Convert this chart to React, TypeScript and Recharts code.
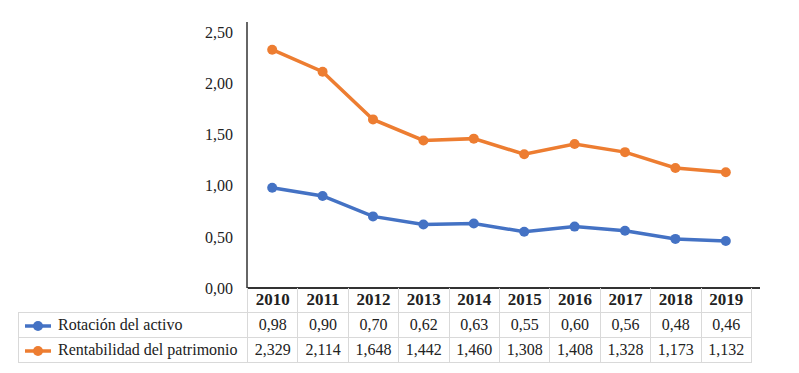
import { LineChart, Line, XAxis, YAxis } from 'recharts';

const years = ['2010', '2011', '2012', '2013', '2014', '2015', '2016', '2017', '2018', '2019'];
const rotacion = [0.98, 0.9, 0.7, 0.62, 0.63, 0.55, 0.6, 0.56, 0.48, 0.46];
const rentabilidad = [2.329, 2.114, 1.648, 1.442, 1.46, 1.308, 1.408, 1.328, 1.173, 1.132];
const yTicks = [0, 0.5, 1, 1.5, 2, 2.5];

const BLUE = '#4472C4';
const ORANGE = '#ED7D31';
const FONT = '"Liberation Serif", "Times New Roman", serif';

const data = years.map((y, i) => ({ year: y, rot: rotacion[i], rent: rentabilidad[i] }));

const comma = (v: number, d: number) => v.toFixed(d).replace('.', ',');

const cellBorder = '1px solid #d9d9d9';

const LegendKey = ({ color }: { color: string }) => (
  <svg width={30} height={12} style={{ verticalAlign: 'middle', marginRight: 5 }}>
    <line x1={2} y1={6} x2={28} y2={6} stroke={color} strokeWidth={3.5} />
    <circle cx={15} cy={6} r={5} fill={color} />
  </svg>
);

export default function App() {
  const colW = 50.4;
  const rows = [
    { label: 'Rotación del activo', color: BLUE, values: rotacion, d: 2 },
    { label: 'Rentabilidad del patrimonio', color: ORANGE, values: rentabilidad, d: 3 },
  ];
  return (
    <div style={{ position: 'absolute', left: 0, top: 0, width: 799, height: 373, background: '#fff', fontFamily: FONT }}>
      <LineChart
        width={799}
        height={300}
        data={data}
        margin={{ top: 22, right: 39, left: 0, bottom: 10 }}
      >
        <XAxis
          dataKey="year"
          scale="band"
          height={2}
          tick={false}
          tickLine={false}
          padding={{ left: 0, right: 9 }}
          axisLine={{ stroke: '#333', strokeWidth: 2 }}
        />
        <YAxis
          width={247}
          domain={[0, 2.6]}
          ticks={yTicks}
          interval={0}
          tickLine={false}
          tickSize={0}
          tickMargin={14}
          axisLine={{ stroke: '#333', strokeWidth: 1.5 }}
          tickFormatter={(v: number) => comma(v, 2)}
          tick={{ fill: '#222', fontSize: 16, fontFamily: FONT }}
        />
        <Line
          dataKey="rent"
          stroke={ORANGE}
          strokeWidth={3.5}
          dot={{ r: 5, fill: ORANGE, stroke: ORANGE, strokeWidth: 0 }}
          isAnimationActive={false}
        />
        <Line
          dataKey="rot"
          stroke={BLUE}
          strokeWidth={3.5}
          dot={{ r: 5, fill: BLUE, stroke: BLUE, strokeWidth: 0 }}
          isAnimationActive={false}
        />
      </LineChart>
      <table
        style={{
          position: 'absolute',
          left: 18,
          top: 288,
          borderCollapse: 'collapse',
          tableLayout: 'fixed',
          fontFamily: FONT,
          fontSize: 16,
          color: '#222',
        }}
      >
        <colgroup>
          <col style={{ width: 229 }} />
          {years.map((y) => (
            <col key={y} style={{ width: colW }} />
          ))}
        </colgroup>
        <tbody>
          <tr style={{ height: 24 }}>
            <td style={{ padding: 0 }} />
            {years.map((y) => (
              <td
                key={y}
                style={{
                  borderLeft: cellBorder,
                  borderRight: cellBorder,
                  borderBottom: cellBorder,
                  textAlign: 'center',
                  fontWeight: 'bold',
                  fontSize: 17,
                  padding: 0,
                }}
              >
                {y}
              </td>
            ))}
          </tr>
          {rows.map((r) => (
            <tr key={r.label} style={{ height: 25 }}>
              <td style={{ border: cellBorder, padding: '0 0 0 4px', whiteSpace: 'nowrap' }}>
                <LegendKey color={r.color} />
                {r.label}
              </td>
              {r.values.map((v, i) => (
                <td key={i} style={{ border: cellBorder, textAlign: 'center', padding: 0 }}>
                  {comma(v, r.d)}
                </td>
              ))}
            </tr>
          ))}
        </tbody>
      </table>
    </div>
  );
}
